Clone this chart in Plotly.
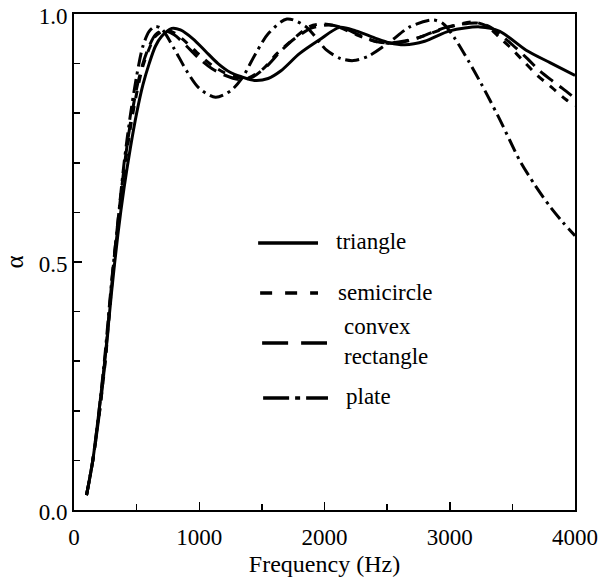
import plotly.graph_objects as go

# ---- data ----
tri_f = [100, 150, 200, 250, 300, 350, 400, 450, 500, 550, 600, 650, 700, 780, 850, 950, 1050, 1150,
         1250, 1330, 1440, 1550, 1650, 1800, 1960, 2120, 2250, 2400, 2520, 2640, 2800, 3000, 3240,
         3400, 3610, 3800, 4000]
tri_a = [0.03, 0.10, 0.20, 0.31, 0.44, 0.555, 0.65, 0.73, 0.80, 0.857, 0.90, 0.935, 0.955, 0.971,
         0.968, 0.95, 0.925, 0.90, 0.882, 0.874, 0.866, 0.87, 0.885, 0.92, 0.948, 0.973, 0.966,
         0.952, 0.942, 0.938, 0.945, 0.966, 0.974, 0.965, 0.927, 0.902, 0.876]

semi_f = [100, 150, 200, 250, 300, 350, 400, 450, 500, 550, 600, 650, 730, 800, 900, 1000, 1100,
          1200, 1300, 1380, 1512, 1620, 1725, 1884, 1990, 2100, 2256, 2416, 2548, 2650, 2735, 2870,
          3000, 3186, 3300, 3400, 3478, 3600, 3700, 3800, 3930, 4000]
semi_a = [0.03, 0.10, 0.19, 0.30, 0.45, 0.57, 0.68, 0.77, 0.84, 0.895, 0.93, 0.955, 0.968, 0.962,
          0.942, 0.918, 0.897, 0.882, 0.873, 0.870, 0.89, 0.92, 0.944, 0.975, 0.98, 0.975, 0.958,
          0.944, 0.941, 0.945, 0.951, 0.963, 0.974, 0.984, 0.975, 0.952, 0.934, 0.902, 0.876, 0.855,
          0.827, 0.815]

conv_f = [100, 150, 200, 250, 300, 350, 400, 450, 500, 550, 600, 650, 710, 800, 900, 1000, 1100,
          1200, 1320, 1420, 1540, 1650, 1760, 1900, 2040, 2150, 2300, 2440, 2540, 2650, 2760, 2880,
          3000, 3210, 3320, 3420, 3500, 3620, 3720, 3820, 3900, 4000]
conv_a = [0.03, 0.10, 0.19, 0.305, 0.455, 0.58, 0.69, 0.78, 0.85, 0.90, 0.935, 0.958, 0.967, 0.958,
          0.935, 0.91, 0.89, 0.877, 0.868, 0.872, 0.895, 0.925, 0.95, 0.972, 0.978, 0.972, 0.955,
          0.943, 0.942, 0.946, 0.953, 0.965, 0.975, 0.982, 0.974, 0.955, 0.938, 0.91, 0.885, 0.865,
          0.85, 0.83]

plate_f = [100, 150, 200, 250, 300, 350, 400, 450, 500, 550, 600, 650, 700, 800, 900, 1000, 1130,
           1250, 1340, 1450, 1550, 1700, 1850, 2017, 2130, 2230, 2350, 2522, 2681, 2867, 2950,
           3040, 3150, 3250, 3319, 3400, 3480, 3558, 3680, 3800, 3900, 4000]
plate_a = [0.03, 0.10, 0.20, 0.32, 0.46, 0.58, 0.70, 0.796, 0.875, 0.935, 0.965, 0.975, 0.97,
           0.93, 0.885, 0.85, 0.832, 0.845, 0.87, 0.92, 0.96, 0.99, 0.975, 0.927, 0.91, 0.906,
           0.915, 0.944, 0.974, 0.988, 0.98, 0.951, 0.905, 0.86, 0.827, 0.787, 0.745, 0.705, 0.655,
           0.612, 0.581, 0.553]

series = [
    ("triangle", tri_f, tri_a, "solid", "solid"),
    ("semicircle", semi_f, semi_a, "8px,8px", "12px,13px"),
    ("convex<br>rectangle", conv_f, conv_a, "16px,8px", "26px,13px"),
    ("plate", plate_f, plate_a, "14px,5px,3px,5px", "26px,6px,5px,6px"),
]

x_ticks = [0, 1000, 2000, 3000, 4000]
y_ticks = [0.0, 0.5, 1.0]

FONT = "Liberation Serif"

W, H = 601, 580
ML, MT = 73.5, 14
PW, PH = 502, 496
MR = W - ML - PW
MB = H - MT - PH

fig = go.Figure()
for name, f, a, dash, _ in series:
    fig.add_trace(go.Scatter(x=f, y=a, mode="lines", name=name.replace("<br>", " "),
                             line=dict(color="black", width=3, dash=dash, shape="spline",
                                       smoothing=0.8),
                             showlegend=False, hoverinfo="skip"))

# ---- hand-drawn legend (paper coordinates, from reference pixel positions) ----
leg_rows = [  # (line y px, line x0 px, line x1 px, text x px, text y px)
    (243, 258, 318, 334, 241),
    (293, 260, 318, 336, 292),
    (343, 262, 327, 342, 341),
    (398, 263, 328, 344, 396),
]
L, R, T, B = 73.5, 575.5, 14, 510
def px(xp):
    return (xp - L) / (R - L)
def py(yp):
    return (B - yp) / (B - T)

for (name, _, _, _, ldash), (ly, x0, x1, tx, ty) in zip(series, leg_rows):
    fig.add_shape(type="line", xref="paper", yref="paper", x0=px(x0), x1=px(x1),
                  y0=py(ly), y1=py(ly), line=dict(color="black", width=3.5, dash=ldash))
    fig.add_annotation(xref="paper", yref="paper", x=px(tx), y=py(ty), text=name,
                       showarrow=False, xanchor="left", yanchor="middle", align="left",
                       font=dict(family=FONT, size=23, color="black"))

axis_common = dict(showline=True, linecolor="black", linewidth=2, mirror=True,
                   ticks="inside", ticklen=8, tickwidth=1.5, tickcolor="black",
                   showgrid=False, zeroline=False, automargin=False,
                   ticklabeloverflow="allow",
                   tickfont=dict(family=FONT, size=23, color="black"))

fig.update_xaxes(range=[0, 4000], tickvals=x_ticks, ticktext=[str(v) for v in x_ticks],
                 minor=dict(dtick=500, ticks="inside", ticklen=6, tickwidth=1.5,
                            tickcolor="black", showgrid=False),
                 ticklabelstandoff=5,
                 title=dict(text="Frequency (Hz)", font=dict(family=FONT, size=24, color="black"),
                            standoff=7),
                 **axis_common)
fig.update_yaxes(range=[0, 1], tickvals=y_ticks, ticktext=[f"{v:.1f}" for v in y_ticks],
                 minor=dict(dtick=0.1, ticks="inside", ticklen=6, tickwidth=1.5,
                            tickcolor="black", showgrid=False),
                 ticklabelshift=2,
                 title=dict(text="α", font=dict(family=FONT, size=25, color="black"), standoff=8),
                 **axis_common)

fig.update_layout(width=W, height=H, margin=dict(l=ML, r=MR, t=MT, b=MB, autoexpand=False),
                  plot_bgcolor="white", paper_bgcolor="white", showlegend=False,
                  font=dict(family=FONT, color="black"))

# remove the browser's default 8px body margin so the figure fills the window exactly
fig.write_html("out.html", config={"displayModeBar": False, "staticPlot": True},
               post_script="document.body.style.margin='0';document.body.style.overflow='hidden';")
